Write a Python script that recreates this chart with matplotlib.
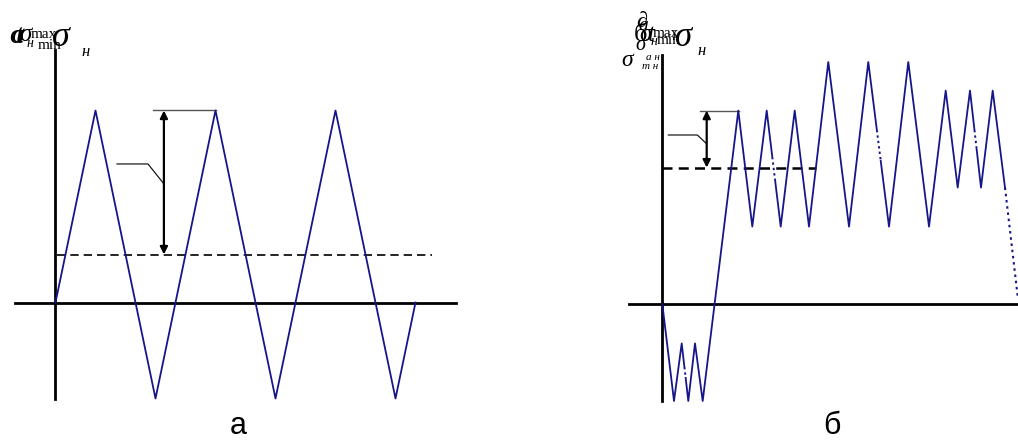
import matplotlib
matplotlib.use("Agg")
import matplotlib.pyplot as plt
import numpy as np

# ---------------- data ----------------
# panel "a": regular cycles (time units, stress units)
a_t = [0, 2, 5, 8, 11, 14, 17, 18]
a_s = [0, 2, -1, 2, -1, 2, -1, 0]
a_mean = 0.5
a_max = 2.0

# panel "б": irregular loading
b_t = [0, 1.17, 1.94, 2.6, 3.27, 4.04, 7.6, 9.0, 10.44, 11.84, 13.24, 14.67,
       16.6, 18.67, 20.6, 22.67, 24.6, 26.67, 28.34, 29.54, 30.77, 31.87,
       33.04, 34.27]
b_s = [0, -4.85, -1.97, -4.85, -1.97, -4.85, 9.67, 3.87, 9.67, 3.87, 9.67, 3.87,
       12.1, 3.87, 12.1, 3.87, 12.1, 3.87, 10.67, 5.82, 10.67, 5.82,
       10.67, 5.82]
b_tail_t = [34.27, 35.54]
b_tail_s = [5.82, 0.37]
b_mean = 6.82
b_max = 9.67

panel_labels = ["а", "б"]

BLUE = "#16168a"
W, H = 1018, 442
fig = plt.figure(figsize=(W / 100, H / 100), dpi=100)


def make_axes(ox, oy, sx, sy):
    ax = fig.add_axes([0, 0, 1, 1])
    ax.set_xlim((0 - ox) / sx, (W - ox) / sx)
    ax.set_ylim((oy - H) / sy, oy / sy)
    ax.axis("off")
    ax.patch.set_alpha(0)
    return ax


def dotted_piece(ax, p0, p1, s_from, s_to):
    # portion of segment p0->p1 between stress values s_from..s_to drawn dotted
    (t0, s0), (t1, s1) = p0, p1
    f0 = (s_from - s0) / (s1 - s0)
    f1 = (s_to - s0) / (s1 - s0)
    ta, tb = t0 + f0 * (t1 - t0), t0 + f1 * (t1 - t0)
    ax.plot([ta, tb], [s_from, s_to], color="white", lw=2.6, solid_capstyle="butt", zorder=3)
    ax.plot([ta, tb], [s_from, s_to], color=BLUE, lw=1.4, ls=(0, (1.2, 1.6)), zorder=4)


# ---------- panel a ----------
axa = make_axes(55.5, 302.5, 20, 96)
axa.plot([0, 0], [-1.005, 2.63], color="black", lw=2.0, zorder=2)
axa.plot([-2, 20], [0, 0], color="black", lw=2.0, zorder=2)
axa.plot(a_t, a_s, color=BLUE, lw=1.3, zorder=3)
axa.plot([0.075, 18.8], [a_mean, a_mean], color="black", lw=1.2,
         ls=(0, (5, 3)), zorder=2)
axa.plot([4.875, a_t[3]], [a_max, a_max], color="#555555", lw=1.0, zorder=2)
axa.annotate("", xy=(5.42, a_max), xytext=(5.42, a_mean),
             arrowprops=dict(arrowstyle="<|-|>", color="black", lw=1.6,
                             mutation_scale=11, shrinkA=0, shrinkB=0))
axa.plot([3.075, 4.625, 5.425], [1.443, 1.443, 1.234], color="black", lw=0.8)

# ---------- panel б ----------
axb = make_axes(662.3, 304, 10, 20)
axb.plot([0, 0], [-4.85, 12.45], color="black", lw=2.0, zorder=2)
axb.plot([-3.33, 35.57], [0, 0], color="black", lw=2.0, zorder=2)
axb.plot(b_t, b_s, color=BLUE, lw=1.3, zorder=3)
axb.plot(b_tail_t, b_tail_s, color=BLUE, lw=1.5, ls=(0, (1.2, 1.8)), zorder=3)
dotted_piece(axb, (b_t[8], b_s[8]), (b_t[9], b_s[9]), 7.35, 6.2)
dotted_piece(axb, (b_t[14], b_s[14]), (b_t[15], b_s[15]), 8.7, 7.2)
dotted_piece(axb, (b_t[20], b_s[20]), (b_t[21], b_s[21]), 8.7, 7.8)
dotted_piece(axb, (b_t[2], b_s[2]), (b_t[3], b_s[3]), -3.15, -3.65)
axb.plot([0, 15.34], [b_mean, b_mean], color="black", lw=1.8,
         ls=(0, (4, 2.5)), zorder=2)
axb.plot([3.77, 7.67], [b_max, b_max], color="#555555", lw=1.0, zorder=2)
axb.annotate("", xy=(4.44, b_max), xytext=(4.44, b_mean),
             arrowprops=dict(arrowstyle="<|-|>", color="black", lw=1.6,
                             mutation_scale=11, shrinkA=0, shrinkB=0))
axb.plot([0.6, 3.5, 4.37], [8.45, 8.45, 8.04], color="black", lw=0.8)

# ---------- text overlay (pixel coordinates) ----------
axt = fig.add_axes([0, 0, 1, 1])
axt.set_xlim(0, W)
axt.set_ylim(H, 0)
axt.axis("off")
axt.patch.set_alpha(0)
serif = "Liberation Serif"


def tx(x, y, s, size, style="italic", **kw):
    axt.text(x, y, s, fontsize=size, family=serif, style=style,
             va="baseline", ha="left", **kw)


# left cluster of overlapping labels
tx(9, 43, "σ", 20)
tx(11, 42, "a", 18)
tx(16, 43, "t", 20)
tx(19, 41, "σ", 18)
tx(27, 47, "н", 10)
tx(31, 38, "max", 11, style="normal")
tx(38, 49, "min", 11, style="normal")
tx(52, 46, "σ", 26)
tx(81, 56, "н", 12)

# right cluster
tx(636, 27, "∂", 16)
tx(638, 30, "a", 14)
tx(634, 41, "б", 19, style="normal")
tx(639, 41, "σ", 18)
tx(648, 41, "t", 18)
tx(651, 45, "н", 10)
tx(653, 37, "max", 11, style="normal")
tx(657, 44, "min", 11, style="normal")
tx(671, 40, "i", 11)
tx(675, 46, "σ", 25)
tx(697, 55, "н", 12)
tx(635, 50, "σ", 15)
tx(621, 66, "σ", 17)
tx(646, 60, "а н", 8)
tx(642, 69, "т н і", 8)

# panel letters
axt.text(238, 434, panel_labels[0], fontsize=22, family="Liberation Sans",
         ha="center", va="baseline")
axt.text(832, 434, panel_labels[1], fontsize=22, family="Liberation Sans",
         ha="center", va="baseline")

fig.savefig("out.png", dpi=100)
